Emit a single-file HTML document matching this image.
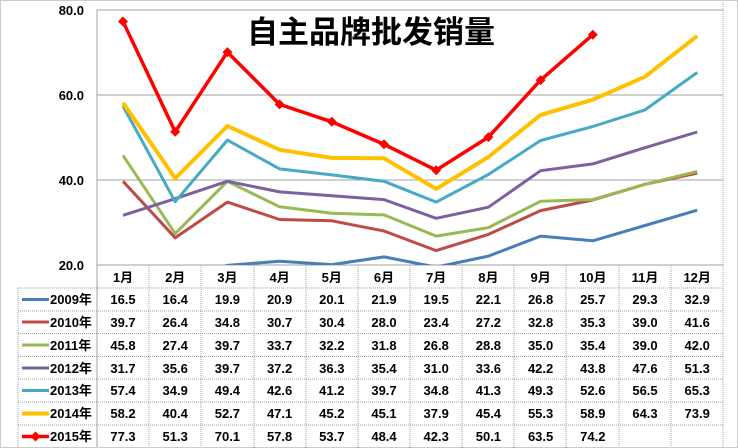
<!DOCTYPE html>
<html><head><meta charset="utf-8"><style>
html,body{margin:0;padding:0;background:#fff}
svg{display:block}
text{font-family:"Liberation Sans","Noto Sans CJK SC",sans-serif}
</style></head><body>
<svg width="738" height="448" viewBox="0 0 738 448" xmlns="http://www.w3.org/2000/svg">
<rect x="0.5" y="0.5" width="737" height="447" fill="#fff" stroke="#999" stroke-dasharray="1,1"/>
<defs><clipPath id="c"><rect x="97" y="0" width="626" height="265"/></clipPath></defs>
<!-- grid -->
<g stroke="#a0a0a0" stroke-width="1">
<line x1="97" y1="10" x2="723" y2="10"/>
<line x1="97" y1="95" x2="723" y2="95"/>
<line x1="97" y1="180" x2="723" y2="180"/>
<line x1="97" y1="265" x2="723" y2="265"/>
<line x1="97" y1="10" x2="97" y2="448"/>
</g>
<g font-size="13" font-weight="bold" text-anchor="end" fill="#000">
<text x="84" y="15">80.0</text><text x="84" y="100">60.0</text><text x="84" y="185">40.0</text><text x="84" y="270">20.0</text>
</g>
<text x="371" y="43" font-size="31" text-anchor="middle" font-weight="bold" fill="#000">自主品牌批发销量</text>
<g clip-path="url(#c)" fill="none" stroke-width="3" stroke-linejoin="round">
<polyline stroke="#4a7ebb" points="123,279.9 175.2,280.3 227.4,265.4 279.6,261.2 331.8,264.6 384,256.9 436.2,267.1 488.4,256.1 540.6,236.1 592.8,240.8 645,225.5 697.2,210.2"/>
<polyline stroke="#be4b48" points="123,181.3 175.2,237.8 227.4,202.1 279.6,219.5 331.8,220.8 384,231 436.2,250.6 488.4,234.4 540.6,210.6 592.8,200 645,184.3 697.2,173.2"/>
<polyline stroke="#98b954" points="123,155.4 175.2,233.6 227.4,181.3 279.6,206.8 331.8,213.2 384,214.9 436.2,236.1 488.4,227.6 540.6,201.3 592.8,199.6 645,184.3 697.2,171.5"/>
<polyline stroke="#7d60a0" points="123,215.3 175.2,198.7 227.4,181.3 279.6,191.9 331.8,195.7 384,199.6 436.2,218.3 488.4,207.2 540.6,170.7 592.8,163.9 645,147.7 697.2,132"/>
<polyline stroke="#46aac5" points="123,106.1 175.2,201.7 227.4,140.1 279.6,168.9 331.8,174.9 384,181.3 436.2,202.1 488.4,174.5 540.6,140.5 592.8,126.5 645,109.9 697.2,72.5"/>
<polyline stroke="#ffc000" stroke-width="4" points="123,102.7 175.2,178.3 227.4,126 279.6,149.8 331.8,157.9 384,158.3 436.2,188.9 488.4,157 540.6,114.9 592.8,99.7 645,76.7 697.2,35.9"/>
<polyline stroke="#ff0000" stroke-width="3.5" points="123,21.5 175.2,131.8 227.4,52.1 279.6,104.4 331.8,121.8 384,144.3 436.2,170.2 488.4,137.1 540.6,80.1 592.8,34.7"/>
</g>
<g fill="#ff0000">
<path d="M123,16.5l5,5-5,5-5-5z"/><path d="M175.2,126.8l5,5-5,5-5-5z"/><path d="M227.4,47.1l5,5-5,5-5-5z"/><path d="M279.6,99.4l5,5-5,5-5-5z"/><path d="M331.8,116.8l5,5-5,5-5-5z"/><path d="M384,139.3l5,5-5,5-5-5z"/><path d="M436.2,165.2l5,5-5,5-5-5z"/><path d="M488.4,132.1l5,5-5,5-5-5z"/><path d="M540.6,75.1l5,5-5,5-5-5z"/><path d="M592.8,29.7l5,5-5,5-5-5z"/>
</g>
<!-- table grid -->
<g stroke="#a0a0a0" stroke-width="1" stroke-dasharray="1,1">
<line x1="97" y1="288" x2="723" y2="288"/>
<line x1="18" y1="288" x2="97" y2="288"/>
<line x1="18" y1="311" x2="723" y2="311"/>
<line x1="18" y1="333.5" x2="723" y2="333.5"/>
<line x1="18" y1="356.5" x2="723" y2="356.5"/>
<line x1="18" y1="379" x2="723" y2="379"/>
<line x1="18" y1="402" x2="723" y2="402"/>
<line x1="18" y1="425" x2="723" y2="425"/>
<line x1="18" y1="288" x2="18" y2="448"/>
<line x1="149" y1="265" x2="149" y2="448"/><line x1="201" y1="265" x2="201" y2="448"/><line x1="254" y1="265" x2="254" y2="448"/><line x1="306" y1="265" x2="306" y2="448"/><line x1="358" y1="265" x2="358" y2="448"/><line x1="410" y1="265" x2="410" y2="448"/><line x1="462" y1="265" x2="462" y2="448"/><line x1="514" y1="265" x2="514" y2="448"/><line x1="566" y1="265" x2="566" y2="448"/><line x1="619" y1="265" x2="619" y2="448"/><line x1="671" y1="265" x2="671" y2="448"/><line x1="723" y1="0" x2="723" y2="448"/>
</g>
<g font-size="13" font-weight="bold" text-anchor="middle" fill="#000">
<text x="123" y="282">1月</text><text x="175.2" y="282">2月</text><text x="227.4" y="282">3月</text><text x="279.6" y="282">4月</text><text x="331.8" y="282">5月</text><text x="384" y="282">6月</text><text x="436.2" y="282">7月</text><text x="488.4" y="282">8月</text><text x="540.6" y="282">9月</text><text x="592.8" y="282">10月</text><text x="645" y="282">11月</text><text x="697.2" y="282">12月</text>
</g>
<g stroke-width="3">
<line x1="22" y1="299.5" x2="49" y2="299.5" stroke="#4a7ebb"/>
<line x1="22" y1="322" x2="49" y2="322" stroke="#be4b48"/>
<line x1="22" y1="345" x2="49" y2="345" stroke="#98b954"/>
<line x1="22" y1="368" x2="49" y2="368" stroke="#7d60a0"/>
<line x1="22" y1="390.5" x2="49" y2="390.5" stroke="#46aac5"/>
<line x1="22" y1="413.5" x2="49" y2="413.5" stroke="#ffc000" stroke-width="4"/>
<line x1="22" y1="436.5" x2="49" y2="436.5" stroke="#ff0000" stroke-width="3.5"/>
</g>
<path d="M35.5,431.5l5,5-5,5-5-5z" fill="#ff0000"/>
<g font-size="13" font-weight="bold" fill="#000">
<text x="50" y="304">2009年</text><text x="50" y="327">2010年</text><text x="50" y="350">2011年</text><text x="50" y="373">2012年</text><text x="50" y="395">2013年</text><text x="50" y="418">2014年</text><text x="50" y="441">2015年</text>
</g>
<g font-size="13" font-weight="bold" text-anchor="middle" fill="#000">
<g transform="translate(0,304)"><text x="123">16.5</text><text x="175.2">16.4</text><text x="227.4">19.9</text><text x="279.6">20.9</text><text x="331.8">20.1</text><text x="384">21.9</text><text x="436.2">19.5</text><text x="488.4">22.1</text><text x="540.6">26.8</text><text x="592.8">25.7</text><text x="645">29.3</text><text x="697.2">32.9</text></g>
<g transform="translate(0,327)"><text x="123">39.7</text><text x="175.2">26.4</text><text x="227.4">34.8</text><text x="279.6">30.7</text><text x="331.8">30.4</text><text x="384">28.0</text><text x="436.2">23.4</text><text x="488.4">27.2</text><text x="540.6">32.8</text><text x="592.8">35.3</text><text x="645">39.0</text><text x="697.2">41.6</text></g>
<g transform="translate(0,350)"><text x="123">45.8</text><text x="175.2">27.4</text><text x="227.4">39.7</text><text x="279.6">33.7</text><text x="331.8">32.2</text><text x="384">31.8</text><text x="436.2">26.8</text><text x="488.4">28.8</text><text x="540.6">35.0</text><text x="592.8">35.4</text><text x="645">39.0</text><text x="697.2">42.0</text></g>
<g transform="translate(0,373)"><text x="123">31.7</text><text x="175.2">35.6</text><text x="227.4">39.7</text><text x="279.6">37.2</text><text x="331.8">36.3</text><text x="384">35.4</text><text x="436.2">31.0</text><text x="488.4">33.6</text><text x="540.6">42.2</text><text x="592.8">43.8</text><text x="645">47.6</text><text x="697.2">51.3</text></g>
<g transform="translate(0,395)"><text x="123">57.4</text><text x="175.2">34.9</text><text x="227.4">49.4</text><text x="279.6">42.6</text><text x="331.8">41.2</text><text x="384">39.7</text><text x="436.2">34.8</text><text x="488.4">41.3</text><text x="540.6">49.3</text><text x="592.8">52.6</text><text x="645">56.5</text><text x="697.2">65.3</text></g>
<g transform="translate(0,418)"><text x="123">58.2</text><text x="175.2">40.4</text><text x="227.4">52.7</text><text x="279.6">47.1</text><text x="331.8">45.2</text><text x="384">45.1</text><text x="436.2">37.9</text><text x="488.4">45.4</text><text x="540.6">55.3</text><text x="592.8">58.9</text><text x="645">64.3</text><text x="697.2">73.9</text></g>
<g transform="translate(0,441)"><text x="123">77.3</text><text x="175.2">51.3</text><text x="227.4">70.1</text><text x="279.6">57.8</text><text x="331.8">53.7</text><text x="384">48.4</text><text x="436.2">42.3</text><text x="488.4">50.1</text><text x="540.6">63.5</text><text x="592.8">74.2</text></g>
</g>
</svg>
</body></html>
